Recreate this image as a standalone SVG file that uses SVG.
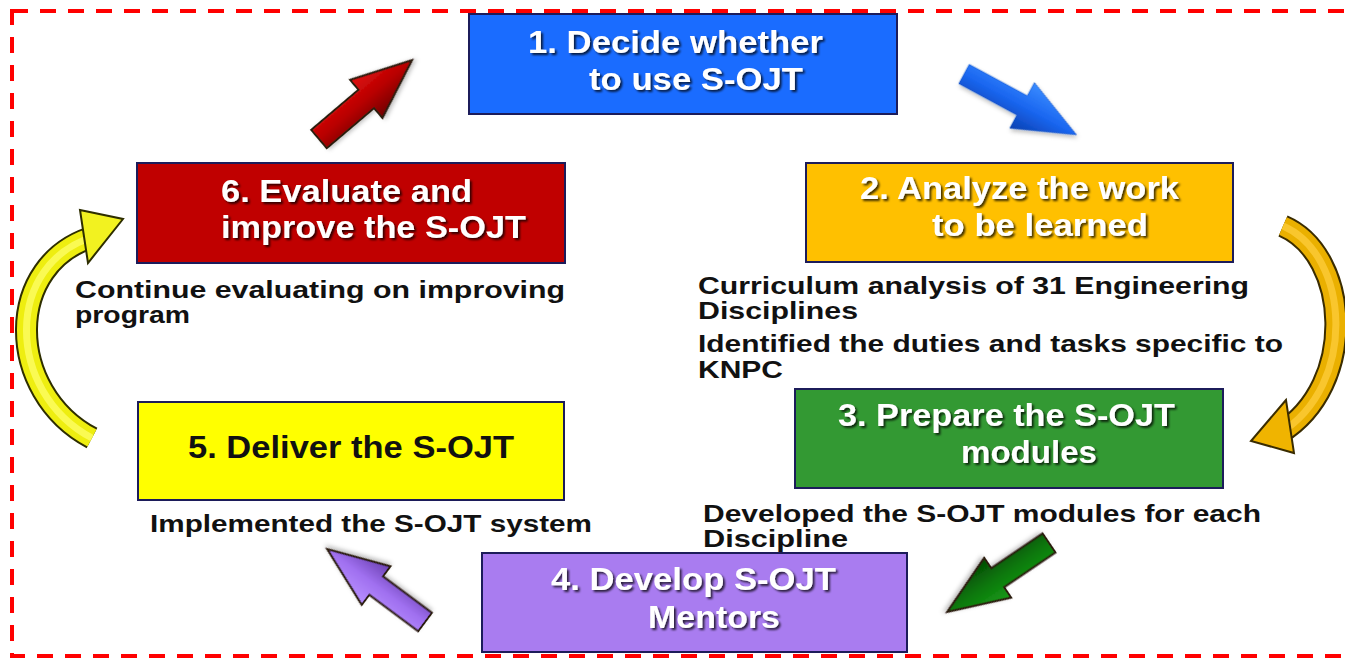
<svg xmlns="http://www.w3.org/2000/svg" width="1345" height="658" viewBox="0 0 1345 658">
<style>
.box{stroke:#1c1c5a;stroke-width:2}
.title{font-family:"Liberation Sans",Arial,sans-serif;font-weight:bold;font-size:32px;fill:#ffffff}
.dark{fill:#111111}
.desc{font-family:"Liberation Sans",Arial,sans-serif;font-weight:bold;font-size:24px;fill:#111111}
.arrowline{stroke:#2a1a10;stroke-width:2;stroke-linejoin:miter}
</style>
<defs>
<filter id="sh" x="-10%" y="-20%" width="130%" height="150%">
<feDropShadow dx="2" dy="2" stdDeviation="1" flood-color="#000" flood-opacity="0.75"/>
</filter>
<filter id="soft" x="-20%" y="-20%" width="140%" height="140%">
<feDropShadow dx="2" dy="2" stdDeviation="2" flood-color="#000" flood-opacity="0.25"/>
</filter>
<linearGradient id="gRed" x1="0" y1="0" x2="0" y2="1"><stop offset="0" stop-color="#e01010"/><stop offset="0.5" stop-color="#b80000"/><stop offset="1" stop-color="#700000"/></linearGradient>
<linearGradient id="gBlue" x1="0" y1="0" x2="0" y2="1"><stop offset="0" stop-color="#3a8cff"/><stop offset="0.5" stop-color="#1a66f0"/><stop offset="1" stop-color="#0a40b0"/></linearGradient>
<linearGradient id="gGreen" x1="0" y1="0" x2="0" y2="1"><stop offset="0" stop-color="#1a9a1a"/><stop offset="0.5" stop-color="#0a780a"/><stop offset="1" stop-color="#044a04"/></linearGradient>
<linearGradient id="gPurple" x1="0" y1="0" x2="0" y2="1"><stop offset="0" stop-color="#b890ff"/><stop offset="0.5" stop-color="#a070f0"/><stop offset="1" stop-color="#6a40b0"/></linearGradient>
</defs>

<rect x="12" y="11" width="1350" height="645" fill="none" stroke="#ff0000" stroke-width="4" stroke-dasharray="16 12"/>

<g id="connectors">
<path id="arrow-6-1" class="arrowline" filter="url(#soft)" fill="url(#gRed)" transform="translate(319,139) rotate(-40.3)" d="M0,-12 L62,-12 L62,-25 L122,0 L62,25 L62,12 L0,12 Z"/>
<path id="arrow-1-2" fill="url(#gBlue)" stroke="#1450c0" stroke-width="0.5" filter="url(#soft)" transform="translate(964,74) rotate(28.4)" d="M0,-11 L66,-11 L66,-26 L128,0 L66,26 L66,11 L0,11 Z"/>
<g id="arrow-2-3">
<path d="M1283,226 C1350,255 1358,385 1280,433" fill="none" stroke="#3a2c00" stroke-width="23"/>
<path d="M1283,226 C1350,255 1358,385 1280,433" fill="none" stroke="#eab000" stroke-width="19"/>
<path d="M1283,226 C1350,255 1358,385 1280,433" fill="none" stroke="#ffd040" stroke-width="7" opacity="0.7"/>
<polygon points="1286,400 1251,441 1294,453" fill="#f0b400" stroke="#3a2c00" stroke-width="2" stroke-linejoin="miter"/>
</g>
<path id="arrow-3-4" class="arrowline" fill="url(#gGreen)" filter="url(#soft)" transform="translate(1049,543) rotate(145.9)" d="M0,-11.5 L62,-11.5 L62,-24 L123,0 L62,24 L62,11.5 L0,11.5 Z"/>
<path id="arrow-4-5" class="arrowline" fill="url(#gPurple)" filter="url(#soft)" transform="translate(425,622) rotate(-143.3)" d="M0,-11.5 L61,-11.5 L61,-24 L122,0 L61,24 L61,11.5 L0,11.5 Z"/>
<g id="arrow-5-6">
<path d="M92,438 C5,392 3,262 96,236" fill="none" stroke="#2e2e00" stroke-width="23"/>
<path d="M92,438 C5,392 3,262 96,236" fill="none" stroke="#eeee10" stroke-width="19"/>
<path d="M92,438 C5,392 3,262 96,236" fill="none" stroke="#ffff70" stroke-width="7" opacity="0.7"/>
<polygon points="80,210 123,219 88,263" fill="#f2f220" stroke="#2e2e00" stroke-width="2" stroke-linejoin="miter"/>
</g>
</g>

<g id="node1">
<rect class="box" x="469" y="14" width="428" height="100" fill="#1a6cff"/>
<text class="title" filter="url(#sh)" x="528" y="53" textLength="295" lengthAdjust="spacingAndGlyphs">1. Decide whether</text>
<text class="title" filter="url(#sh)" x="589" y="90" textLength="214" lengthAdjust="spacingAndGlyphs">to use S-OJT</text>
</g>

<g id="node2">
<rect class="box" x="806" y="163" width="427" height="99" fill="#ffc000"/>
<text class="title" filter="url(#sh)" x="860" y="199" textLength="319" lengthAdjust="spacingAndGlyphs">2. Analyze the work</text>
<text class="title" filter="url(#sh)" x="932" y="236" textLength="216" lengthAdjust="spacingAndGlyphs">to be learned</text>
<text class="desc" x="698" y="294" textLength="551" lengthAdjust="spacingAndGlyphs">Curriculum analysis of 31 Engineering</text>
<text class="desc" x="698" y="319" textLength="160" lengthAdjust="spacingAndGlyphs">Disciplines</text>
<text class="desc" x="698" y="352" textLength="585" lengthAdjust="spacingAndGlyphs">Identified the duties and tasks specific to</text>
<text class="desc" x="698" y="378" textLength="85" lengthAdjust="spacingAndGlyphs">KNPC</text>
</g>

<g id="node3">
<rect class="box" x="795" y="389" width="428" height="99" fill="#339933"/>
<text class="title" filter="url(#sh)" x="838" y="426" textLength="337" lengthAdjust="spacingAndGlyphs">3. Prepare the S-OJT</text>
<text class="title" filter="url(#sh)" x="961" y="463" textLength="136" lengthAdjust="spacingAndGlyphs">modules</text>
<text class="desc" x="703" y="522" textLength="558" lengthAdjust="spacingAndGlyphs">Developed the S-OJT modules for each</text>
<text class="desc" x="703" y="547" textLength="145" lengthAdjust="spacingAndGlyphs">Discipline</text>
</g>

<g id="node4">
<rect class="box" x="482" y="553" width="425" height="99" fill="#a97cf0"/>
<text class="title" filter="url(#sh)" x="551" y="590" textLength="285" lengthAdjust="spacingAndGlyphs">4. Develop S-OJT</text>
<text class="title" filter="url(#sh)" x="648" y="628" textLength="132" lengthAdjust="spacingAndGlyphs">Mentors</text>
</g>

<g id="node5">
<rect class="box" x="138" y="402" width="426" height="98" fill="#ffff00"/>
<text class="title dark" x="188" y="458" textLength="326" lengthAdjust="spacingAndGlyphs">5. Deliver the S-OJT</text>
<text class="desc" x="150" y="532" textLength="442" lengthAdjust="spacingAndGlyphs">Implemented  the S-OJT system</text>
</g>

<g id="node6">
<rect class="box" x="137" y="163" width="428" height="100" fill="#c00000"/>
<text class="title" filter="url(#sh)" x="221" y="202" textLength="251" lengthAdjust="spacingAndGlyphs">6. Evaluate and</text>
<text class="title" filter="url(#sh)" x="221" y="238" textLength="305" lengthAdjust="spacingAndGlyphs">improve the S-OJT</text>
<text class="desc" x="75" y="298" textLength="490" lengthAdjust="spacingAndGlyphs">Continue  evaluating on improving</text>
<text class="desc" x="75" y="323" textLength="115" lengthAdjust="spacingAndGlyphs">program</text>
</g>
</svg>
